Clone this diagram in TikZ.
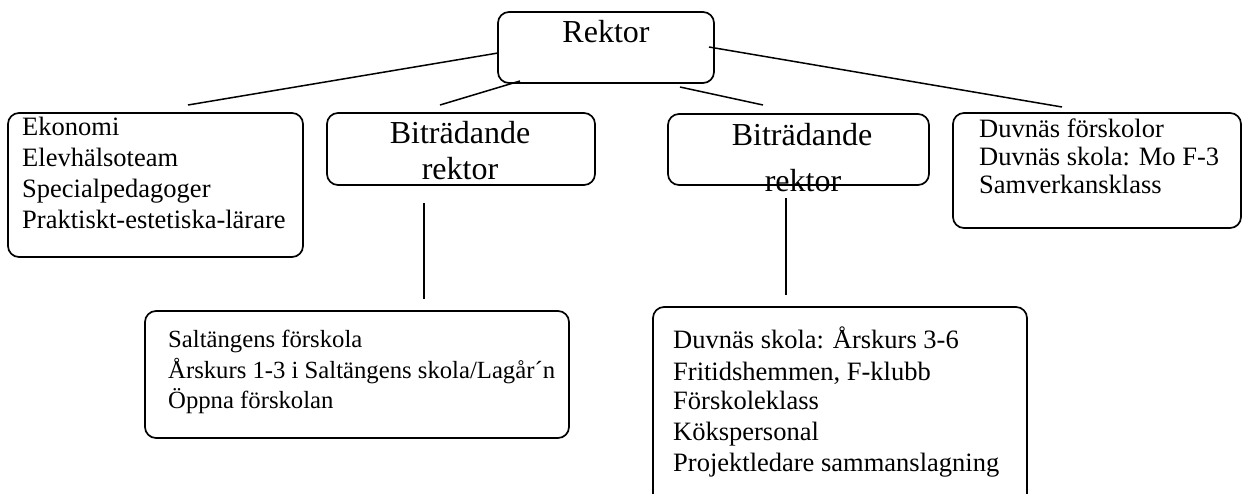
\documentclass[tikz,border=0pt]{standalone}
\usepackage{fontspec}
\setmainfont{Liberation Serif}
\tikzset{
  box/.style={draw, line width=1.7pt, rounded corners=11pt},
  conn/.style={line width=1.5pt},
  big/.style={inner sep=0pt, anchor=base, font=\fontsize{32}{36}\selectfont},
  txt/.style={inner sep=0pt, anchor=base west, font=\fontsize{26.5}{31}\selectfont},
  stxt/.style={inner sep=0pt, anchor=base west, font=\fontsize{24.7}{30}\selectfont},
}
\begin{document}
\begin{tikzpicture}[x=1pt,y=-1pt]
\useasboundingbox (0,0) rectangle (1243,493);
% boxes
\draw[box] (498,12) rectangle (714,83);
\node[inner sep=0pt] (rektor) at (606,47) {};
\draw[box] (8,113) rectangle (303,257);
\node[inner sep=0pt] (stab) at (155,185) {};
\draw[box] (327,113) rectangle (595,185);
\node[inner sep=0pt] (br1) at (461,149) {};
\draw[box] (668,114) rectangle (929,185);
\node[inner sep=0pt] (br2) at (799,149) {};
\draw[box] (953,113) rectangle (1241,228);
\node[inner sep=0pt] (mo) at (1097,170) {};
\draw[box] (145,311) rectangle (569,438);
\node[inner sep=0pt] (salt) at (357,375) {};
\draw[box] (653,307) rectangle (1027,505);
\node[inner sep=0pt] (duv) at (840,400) {};
% texts
\node[big] (t0) at (606,42) {Rektor};
\node[big] (t1a) at (460,143) {Biträdande};
\node[big] (t1b) at (460,179) {rektor};
\node[big] (t2a) at (802,145) {Biträdande};
\node[big] (t2b) at (803,191) {rektor};
\node[txt] (e1) at (22,135) {Ekonomi};
\node[txt] (e2) at (22,166) {Elevhälsoteam};
\node[txt] (e3) at (22,197) {Specialpedagoger};
\node[txt] (e4) at (22,228) {Praktiskt-estetiska-lärare};
\node[txt] (m1) at (979,137) {Duvnäs förskolor};
\node[txt] (m2) at (979,165) {Duvnäs skola: Mo F-3};
\node[txt] (m3) at (979,193) {Samverkansklass};
\node[stxt] (s1) at (168,347) {Saltängens förskola};
\node[stxt] (s2) at (168,378) {Årskurs 1-3 i Saltängens skola/Lagår´n};
\node[stxt] (s3) at (168,408) {Öppna förskolan};
\node[txt] (d1) at (673,348) {Duvnäs skola: Årskurs 3-6};
\node[txt] (d2) at (673,380) {Fritidshemmen, F-klubb};
\node[txt] (d3) at (673,409) {Förskoleklass};
\node[txt] (d4) at (673,440) {Kökspersonal};
\node[txt] (d5) at (673,471) {Projektledare sammanslagning};
% connector end points
\coordinate (c1a) at (498,53);  \coordinate (c1b) at (188,105);
\coordinate (c2a) at (520,81);  \coordinate (c2b) at (440,105);
\coordinate (c3a) at (680,87);  \coordinate (c3b) at (763,105);
\coordinate (c4a) at (709,47);  \coordinate (c4b) at (1062,107);
\coordinate (v1a) at (424,203); \coordinate (v1b) at (424,299);
\coordinate (v2a) at (786,198); \coordinate (v2b) at (786,295);
\draw[conn] (c1a) -- (c1b);
\draw[conn] (c2a) -- (c2b);
\draw[conn] (c3a) -- (c3b);
\draw[conn] (c4a) -- (c4b);
\draw[conn] (v1a) -- (v1b);
\draw[conn] (v2a) -- (v2b);
\end{tikzpicture}
\end{document}
